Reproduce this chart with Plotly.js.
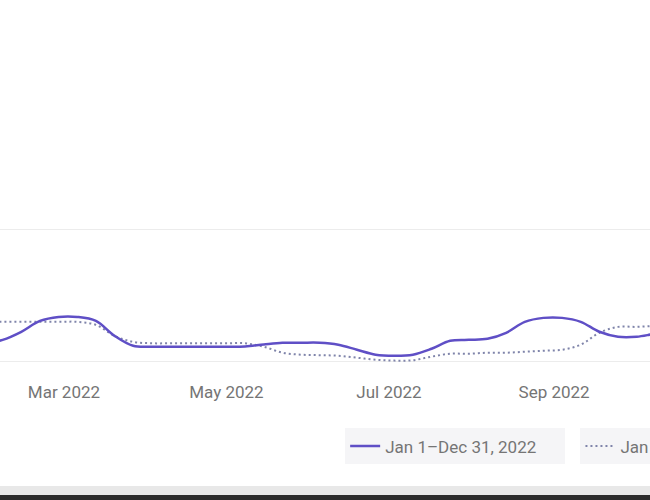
<!DOCTYPE html>
<html>
<head>
<meta charset="utf-8">
<script src="https://cdn.plot.ly/plotly-3.0.1.min.js"></script>
<style>
  html, body { margin: 0; padding: 0; background: #ffffff; }
  #chart { width: 650px; height: 500px; }
</style>
</head>
<body>
<div id="chart"></div>
<script>
// Weekly dates for 2022
const weeks = [
  '2022-01-02','2022-01-09','2022-01-16','2022-01-23','2022-01-30',
  '2022-02-06','2022-02-13','2022-02-20','2022-02-27',
  '2022-03-06','2022-03-13','2022-03-20','2022-03-27',
  '2022-04-03','2022-04-10','2022-04-17','2022-04-24',
  '2022-05-01','2022-05-08','2022-05-15','2022-05-22','2022-05-29',
  '2022-06-05','2022-06-12','2022-06-19','2022-06-26',
  '2022-07-03','2022-07-10','2022-07-17','2022-07-24','2022-07-31',
  '2022-08-07','2022-08-14','2022-08-21','2022-08-28',
  '2022-09-04','2022-09-11','2022-09-18','2022-09-25',
  '2022-10-02','2022-10-09','2022-10-16','2022-10-23','2022-10-30',
  '2022-11-06','2022-11-13','2022-11-20','2022-11-27',
  '2022-12-04','2022-12-11','2022-12-18','2022-12-25'
];

// Current period: Jan 1–Dec 31, 2022 (solid)
const current = [
  10.5, 9.8, 10.5, 12.0, 13.5,
  16.5, 22.6, 30.8, 33.8,
  33.8, 30.8, 19.5, 12.0,
  11.3, 11.3, 11.3, 11.3,
  11.3, 11.5, 13.0, 14.3, 14.3,
  14.3, 12.8, 9.0, 5.3,
  4.5, 5.3, 9.8, 15.8, 16.5,
  17.3, 21.8, 30.1, 33.1,
  33.1, 30.1, 22.6, 18.8,
  18.8, 21.1, 22.5, 23.0, 21.5,
  19.0, 18.0, 19.5, 22.0,
  23.5, 22.0, 19.5, 18.0
];

// Comparison period: Jan 1–Dec 31, 2021 (dotted)
const previous = [
  29.0, 29.5, 30.0, 30.1, 30.1,
  30.1, 30.1, 30.1, 30.1,
  30.1, 27.8, 19.5, 15.0,
  13.9, 13.9, 13.9, 13.9,
  13.9, 13.9, 11.3, 6.8, 5.3,
  4.9, 4.5, 3.0, 1.5,
  0.8, 1.1, 3.8, 6.0, 6.0,
  6.8, 6.8, 7.5, 8.3,
  9.0, 12.8, 21.8, 26.3,
  26.3, 27.1, 27.5, 27.0, 25.5,
  24.0, 24.5, 26.0, 28.0,
  29.5, 30.0, 28.5, 27.0
];

const seriesNames = ['Jan 1\u2013Dec 31, 2022', 'Jan 1\u2013Dec 31, 2021'];
const xTickVals = ['2022-03-01', '2022-05-01', '2022-07-01', '2022-09-01'];
const xTickText = ['Mar 2022', 'May 2022', 'Jul 2022', 'Sep 2022'];
const yTickVals = [0, 100];

const traces = [
  {
    x: weeks, y: previous, name: seriesNames[1], type: 'scatter', mode: 'lines',
    line: { color: '#7f84aa', width: 2, dash: '2px,3px', shape: 'spline', smoothing: 1 },
    legend: 'legend2', hoverinfo: 'skip'
  },
  {
    x: weeks, y: current, name: seriesNames[0], type: 'scatter', mode: 'lines',
    line: { color: '#5f4fc6', width: 2.5, shape: 'spline', smoothing: 1 },
    legend: 'legend', hoverinfo: 'skip'
  }
];

const textFont = 'Roboto, Inter, sans-serif';
const legendFont = { family: textFont, size: 17, color: '#757575' };

const layout = {
  width: 650, height: 500,
  margin: { l: 0, r: 0, t: 228, b: 137, autoexpand: false },
  paper_bgcolor: '#ffffff', plot_bgcolor: '#ffffff',
  font: { family: textFont, color: '#757575' },
  xaxis: {
    type: 'date',
    range: ['2022-02-05', '2022-10-07'],
    tickvals: xTickVals, ticktext: xTickText,
    showgrid: false, zeroline: false, showline: false,
    ticks: '', ticklabelstandoff: 17,
    tickfont: { family: textFont, size: 17, color: '#757575' }
  },
  yaxis: {
    range: [-1, 101], tickvals: yTickVals,
    showticklabels: false, showgrid: true, gridcolor: '#ececec', gridwidth: 1.5,
    zeroline: false, showline: false, ticks: ''
  },
  showlegend: true,
  legend: {
    orientation: 'h', x: 0.531, xanchor: 'left', y: -0.485, yanchor: 'top',
    bgcolor: '#f5f5f7', borderwidth: 0, font: legendFont, itemwidth: 30,
    entrywidth: 175, traceorder: 'normal'
  },
  legend2: {
    orientation: 'h', x: 0.893, xanchor: 'left', y: -0.485, yanchor: 'top',
    bgcolor: '#f5f5f7', borderwidth: 0, font: legendFont, itemwidth: 30
  },
  shapes: [
    { type: 'rect', xref: 'paper', yref: 'paper', x0: 0, x1: 1,
      y0: (363 - 495) / 135, y1: (363 - 486) / 135,
      fillcolor: '#e8e8e8', line: { width: 0 }, layer: 'below' },
    { type: 'rect', xref: 'paper', yref: 'paper', x0: 0, x1: 1,
      y0: (363 - 500) / 135, y1: (363 - 495) / 135,
      fillcolor: '#2b2b2b', line: { width: 0 }, layer: 'below' }
  ]
};

Plotly.newPlot('chart', traces, layout, { displayModeBar: false, staticPlot: true });
</script>
</body>
</html>
